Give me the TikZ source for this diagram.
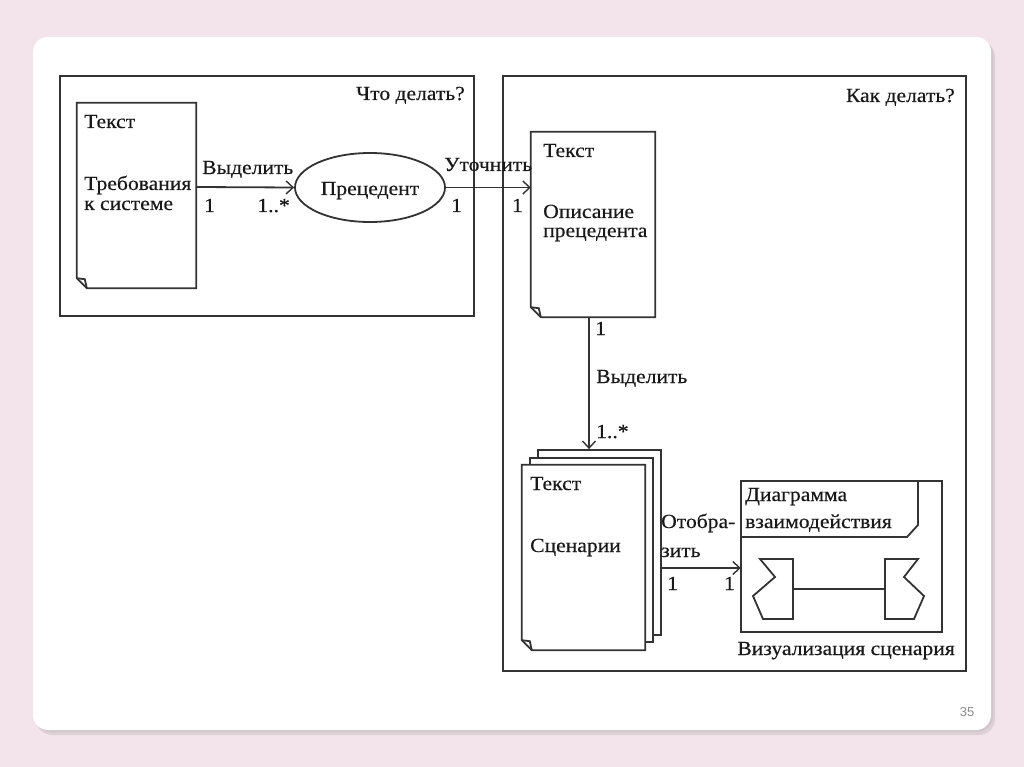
\documentclass[tikz,border=0pt]{standalone}
\usepackage{fontspec}
\setmainfont{Liberation Serif}[FakeStretch=1.08,FakeBold=0.4]
\newfontfamily\numfont{Liberation Sans}
\usetikzlibrary{shapes.geometric,arrows.meta,calc}
\definecolor{bgpink}{HTML}{F2E4EA}
\definecolor{ink}{HTML}{333333}
\definecolor{shadowc}{HTML}{C9BFC4}
\newcommand\docoutline[1]{%
  \draw[line] (#1.north west) -- (#1.north east) -- (#1.south east) -- ([xshift=10pt]#1.south west) -- ([yshift=10pt]#1.south west) -- cycle;
  \draw[line] ([yshift=10pt]#1.south west) -- ([xshift=8pt,yshift=9pt]#1.south west) -- ([xshift=10pt]#1.south west);}
\begin{document}
\begin{tikzpicture}[x=1pt,y=-1pt,
  line/.style={draw=ink,line width=1.8pt},
  lbl/.style={inner sep=0pt,text=black!90,font=\fontsize{20}{22}\selectfont,anchor=base west},
  arr/.style={line,-{Straight Barb[length=7pt,width=13pt,line width=1.4pt]}},
  docbox/.style={draw=none,fill=white,inner sep=0pt},
  frame/.style={line,fill=white}]
\useasboundingbox (0,0) rectangle (1024,767);
\fill[bgpink] (0,0) rectangle (1024,767);
% slide with shadow
\fill[shadowc,opacity=0.5,rounded corners=16pt] (36,41) rectangle (995,735);
\fill[shadowc,opacity=0.6,rounded corners=16pt] (35,39) rectangle (993,732);
\fill[white,rounded corners=15pt] (33,37) rectangle (991,730);
\node[font=\numfont\fontsize{13}{15}\selectfont,text=black!45,inner sep=0pt] (pg) at (967,712) {35};

% left frame
\draw[frame] (60,76) rectangle (474,316);
\node[lbl,anchor=base east] (what) at (465,100) {Что делать?};
% right frame
\draw[frame] (503,76) rectangle (966,671);
\node[lbl,anchor=base east] (how) at (955,102) {Как делать?};

% requirements document
\node[docbox,minimum width=119pt,minimum height=185pt] (req) at (136.5,195.5) {};
\docoutline{req}
\node[lbl] (reqT) at (84,128) {Текст};
\node[lbl] (reqN1) at (84,190) {Требования};
\node[lbl] (reqN2) at (84,210) {к системе};

% use case ellipse
\node[ellipse,line,fill=white,minimum width=150pt,minimum height=69pt,inner sep=0pt] (prec) at (370,187.5) {};
\node[lbl,anchor=base] (precT) at (370,195) {Прецедент};

% use case description document
\node[docbox,minimum width=124pt,minimum height=185pt] (desc) at (593,224.5) {};
\docoutline{desc}
\node[lbl] (descT) at (543,157) {Текст};
\node[lbl] (descN1) at (543,218) {Описание};
\node[lbl] (descN2) at (543,237) {прецедента};

% scenarios stack
\node[docbox,line,minimum width=123pt,minimum height=185pt] (scen3) at (599.5,542.5) {};
\node[docbox,line,minimum width=123pt,minimum height=184pt] (scen2) at (591.5,550) {};
\node[docbox,minimum width=123pt,minimum height=185pt] (scen1) at (583.5,557.5) {};
\docoutline{scen1}
\node[lbl] (scenT) at (530,490) {Текст};
\node[lbl] (scenN) at (530,552) {Сценарии};

% interaction diagram
\node[draw=none,fill=white,inner sep=0pt,minimum width=201pt,minimum height=151pt] (diag) at (841.5,556.5) {};
\draw[line] (diag.north west) rectangle (diag.south east);
\draw[line] (918,481) -- (918,525) -- (907,537) -- (741,537);
\node[lbl] (diagT1) at (745,501) {Диаграмма};
\node[lbl] (diagT2) at (745,528) {взаимодействия};
\draw[line] (760,559) -- (793,559) -- (793,619) -- (763,619) -- (753,596) -- (775,577) -- cycle;
\draw[line] (918,559) -- (885,559) -- (885,619) -- (914,619) -- (924,596) -- (904,577) -- cycle;
\draw[line] (793,589) -- (885,589);
\node[lbl,anchor=base east] (vis) at (955,655) {Визуализация сценария};

% connectors
\draw[arr] ([yshift=8.5pt]req.east) -- (prec.west);
\node[lbl] (l1) at (202,174) {Выделить};
\node[lbl] (m1a) at (204,212) {1};
\node[lbl,anchor=base east] (m1b) at (290,212) {1..*};

\draw[arr] (prec.east) -- (prec.east -| desc.west);
\node[lbl] (l2) at (444,171) {Уточнить};
\node[lbl] (m2a) at (451,212) {1};
\node[lbl,anchor=base east] (m2b) at (523,212) {1};

\draw[arr] ([xshift=-4pt]desc.south) -- ([xshift=-4pt]desc.south |- scen3.north);
\node[lbl] (m3a) at (595,335) {1};
\node[lbl] (l3) at (596,383) {Выделить};
\node[lbl] (m3b) at (596,438) {1..*};

\draw[arr] ([yshift=-25.5pt]scen3.east) -- ([yshift=-25.5pt]scen3.east -| diag.west);
\node[lbl] (l4a) at (661,528) {Отобра-};
\node[lbl] (l4b) at (661,557) {зить};
\node[lbl] (m4a) at (667,590) {1};
\node[lbl,anchor=base east] (m4b) at (735,590) {1};
\end{tikzpicture}
\end{document}
